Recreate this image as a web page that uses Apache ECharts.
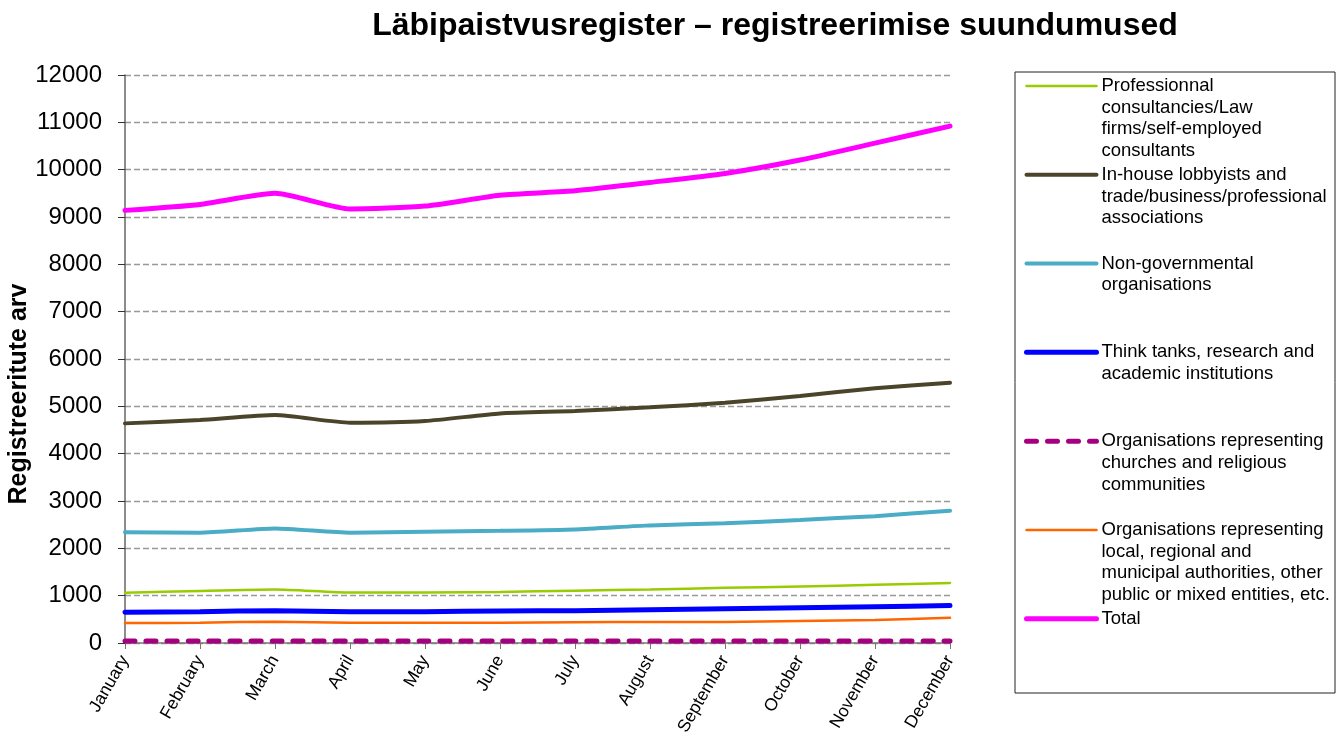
<!DOCTYPE html>
<html style="height: 100%;width: 100%">
<head>
    <meta charset="utf-8">
    <script src="https://cdn.jsdelivr.net/npm/echarts@6/dist/echarts.min.js"></script>
    <style>
        body { margin: 0; background: #fff; }
        #container { width: 1344px; height: 737px; }
    </style>
</head>
<body>
<div id="container"></div>
<script type="text/javascript">

var months = ['January', 'February', 'March', 'April', 'May', 'June', 'July', 'August', 'September', 'October', 'November', 'December'];

var professional = [1060, 1100, 1130, 1065, 1065, 1080, 1105, 1130, 1165, 1195, 1230, 1270];
var inHouse = [4640, 4710, 4815, 4655, 4690, 4850, 4900, 4980, 5075, 5220, 5380, 5500];
var ngo = [2340, 2330, 2420, 2330, 2350, 2370, 2400, 2485, 2530, 2600, 2680, 2795];
var thinkTanks = [650, 662, 683, 662, 662, 676, 683, 704, 725, 746, 768, 790];
var churches = [40, 40, 40, 40, 40, 40, 40, 40, 40, 40, 40, 40];
var localAuth = [420, 430, 450, 430, 430, 430, 437, 444, 444, 465, 486, 535];
var total = [9140, 9265, 9500, 9170, 9230, 9460, 9555, 9730, 9920, 10205, 10560, 10920];

var yTicks = [0, 1000, 2000, 3000, 4000, 5000, 6000, 7000, 8000, 9000, 10000, 11000, 12000];

// legend texts, padded with blank lines so the first line sits beside the icon
var names = [
    'Professionnal\nconsultancies/Law\nfirms/self-employed\nconsultants',
    'In-house lobbyists and\ntrade/business/professional\nassociations',
    'Non-governmental\norganisations',
    'Think tanks, research and\nacademic institutions',
    'Organisations representing\nchurches and religious\ncommunities',
    'Organisations representing\nlocal, regional and\nmunicipal authorities, other\npublic or mixed entities, etc.',
    'Total'
];

function padName(n) {
    var lines = n.split('\n');
    var out = ['', '', ''].concat(lines);
    while (out.length < 7) out.push('');
    return out.join('\n');
}

var dom = document.getElementById('container');
var myChart = echarts.init(dom);

function mk(idx, data, color, width, dash) {
    return {
        name: names[idx],
        type: 'line',
        data: data,
        smooth: 0.2,
        symbol: 'none',
        lineStyle: {
            color: color,
            width: width,
            type: dash || 'solid',
            cap: 'round'
        },
        itemStyle: { color: color }
    };
}

var option = {
    animation: false,
    title: {
        text: 'Läbipaistvusregister – registreerimise suundumused',
        left: 770,
        textAlign: 'center',
        top: 5,
        textStyle: {
            fontFamily: 'Liberation Sans',
            fontSize: 32,
            fontWeight: 'bold',
            color: '#000'
        }
    },
    legend: {
        orient: 'vertical',
        left: 1024,
        top: 10,
        padding: 0,
        itemWidth: 70,
        itemHeight: 14,
        itemGap: -63.1,
        itemStyle: { opacity: 0 },
        lineStyle: { width: 'inherit', cap: 'round' },
        formatter: function (n) { return padName(n); },
        textStyle: {
            fontFamily: 'Liberation Sans',
            fontSize: 18.5,
            lineHeight: 21.7,
            color: '#000'
        },
        data: names
    },
    graphic: [{
        type: 'rect',
        shape: { x: 1015, y: 72, width: 320, height: 621 },
        style: { fill: 'none', stroke: '#222', lineWidth: 1 }
    }],
    grid: {
        left: 125,
        right: 394,
        top: 75,
        bottom: 94,
        outerBoundsMode: 'none'
    },
    xAxis: {
        type: 'category',
        data: months,
        boundaryGap: false,
        axisLine: { lineStyle: { color: '#777', width: 1.5 } },
        axisTick: { show: true, length: 6, lineStyle: { color: '#777' } },
        axisLabel: {
            rotate: 60,
            margin: 14,
            fontFamily: 'Liberation Sans',
            fontSize: 17.5,
            color: '#000'
        }
    },
    yAxis: {
        type: 'value',
        min: yTicks[0],
        max: yTicks[yTicks.length - 1],
        interval: 1000,
        name: 'Registreeritute arv',
        nameLocation: 'middle',
        nameGap: 93,
        nameMoveOverlap: false,
        nameTextStyle: {
            fontFamily: 'Liberation Sans',
            fontSize: 25,
            fontWeight: 'bold',
            color: '#000',
            padding: [0, 70, 0, 0]
        },
        axisLine: { show: true, lineStyle: { color: '#666', width: 1.5 } },
        axisTick: { show: true, inside: false, length: 7, lineStyle: { color: '#333' } },
        axisLabel: {
            margin: 23,
            fontFamily: 'Liberation Sans',
            fontSize: 24,
            color: '#000',
            formatter: function (v) { return String(v); }
        },
        splitLine: { show: true, lineStyle: { color: '#999', type: [6, 3], width: 1.3 } }
    },
    series: [
        mk(0, professional, '#99CC00', 2.5),
        mk(1, inHouse, '#4A452A', 4),
        mk(2, ngo, '#4BACC6', 4),
        mk(3, thinkTanks, '#0000FF', 5),
        mk(4, churches, '#A5007F', 5, [10, 11]),
        mk(5, localAuth, '#FF6600', 2.5),
        mk(6, total, '#FF00FF', 5)
    ]
};

if (option && typeof option === 'object') {
    myChart.setOption(option);
}

</script>
</body>
</html>
